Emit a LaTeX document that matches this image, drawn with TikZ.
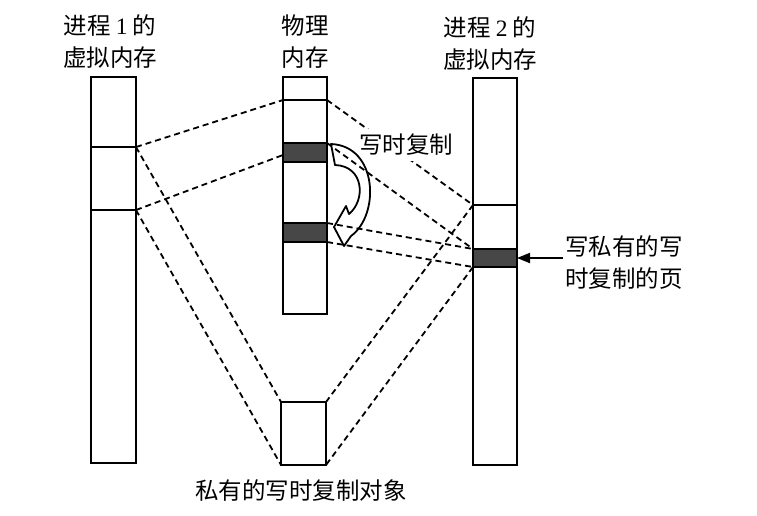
\documentclass[tikz,border=0pt]{standalone}
\usepackage{fontspec}
\setmainfont{Liberation Serif}
\newfontfamily\cjk{Noto Sans CJK SC}
\usetikzlibrary{arrows.meta}
\begin{document}
\begin{tikzpicture}[x=1pt,y=-1pt,
  col/.style={line width=2pt},
  band/.style={fill=black!72, draw=black, line width=2pt},
  map/.style={dash pattern=on 6pt off 4pt, line width=1.8pt},
  lbl/.style={font=\fontsize{23.5}{32}\selectfont\cjk, align=center, inner sep=0pt},
  cow/.style={line width=1.8pt, line join=round},
  ptr/.style={line width=1.8pt, -{Triangle[length=13pt,width=10pt]}},
]
\useasboundingbox (0,0) rectangle (757,515);
% columns
\draw[col] (91,77) rectangle (136,463);
\draw[col] (91,147) -- (136,147);
\draw[col] (91,210) -- (136,210);
\draw[col] (283,77) rectangle (327,314);
\draw[col] (283,100) -- (327,100);
\filldraw[band] (283,143) rectangle (327,162);
\filldraw[band] (283,223) rectangle (327,242);
\draw[col] (473,78) rectangle (517,465);
\draw[col] (473,205) -- (517,205);
\filldraw[band] (473,249) rectangle (517,267);
\draw[col] (281,402) rectangle (326,465);
% anchor points
\coordinate (L1) at (136,147);
\coordinate (L2) at (136,210);
\coordinate (M0) at (283,100);
\coordinate (M1) at (283,155);
\coordinate (B1) at (281,402);
\coordinate (B2) at (281,465);
\coordinate (B3) at (326,402);
\coordinate (B4) at (326,465);
\coordinate (MR0) at (327,100);
\coordinate (MR1) at (327,143);
\coordinate (MR2) at (327,223);
\coordinate (MR3) at (327,242);
\coordinate (R0) at (473,205);
\coordinate (R1) at (473,249);
\coordinate (R2) at (473,267);
\coordinate (RB) at (517,258);
\coordinate (A) at (563,258);
% mapping lines
\draw[map] (L1) -- (M0);
\draw[map] (L2) -- (M1);
\draw[map] (L1) -- (B1);
\draw[map] (L2) -- (B2);
\draw[map] (MR0) -- (R0);
\draw[map] (MR1) -- (R1);
\draw[map] (MR2) -- (R1);
\draw[map] (MR3) -- (R2);
\draw[map] (R0) -- (B3);
\draw[map] (R2) -- (B4);
% labels
\node[lbl] (t1) at (110,42) {进程 {\rmfamily 1} 的\\虚拟内存};
\node[lbl] (t2) at (305,42) {物理\\内存};
\node[lbl] (t3) at (490,44) {进程 {\rmfamily 2} 的\\虚拟内存};
\node[lbl, fill=white, inner sep=5pt] (cw) at (406,145) {写时复制};
\node[lbl, align=left] (wp) at (624,263) {写私有的写\\时复制的页};
\node[lbl] (obj) at (301,491) {私有的写时复制对象};
% copy arrow
\draw[cow] (331,144) .. controls (378,146) and (380,215) .. (351,236) -- (344,246) -- (334,227) -- (346,206) -- (349,214) .. controls (366,200) and (364,166) .. (335,165) -- cycle;
\draw[ptr] (A) -- (RB);
\end{tikzpicture}
\end{document}
